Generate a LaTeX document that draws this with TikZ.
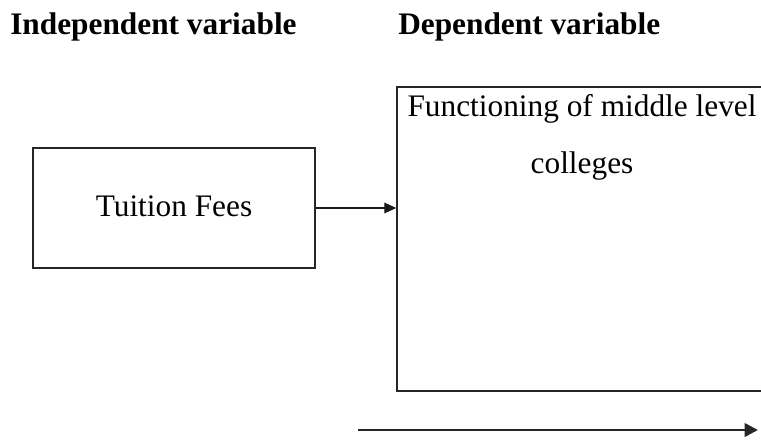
\documentclass[tikz,border=0pt]{standalone}
\usepackage{fontspec}
\setmainfont{Liberation Serif}
\usetikzlibrary{arrows.meta}
\begin{document}
\begin{tikzpicture}[x=0.75pt,y=-0.75pt,
  box/.style={draw=black!85,line width=1.1pt,rectangle,inner sep=0pt},
  txt/.style={font=\fontsize{23.5}{28}\selectfont,inner sep=0pt,anchor=base},
  head/.style={font=\bfseries\fontsize{23.5}{28}\selectfont,inner sep=0pt,anchor=base west},
  conn/.style={-{Triangle[length=9pt,width=8pt]},line width=0.8pt,black!90},
  bigarrow/.style={-{Triangle[length=10pt,width=10pt]},line width=2pt,black!85}]
\useasboundingbox (0,0) rectangle (761,442);
\clip (0,0) rectangle (761,442);
\node[head] (iv) at (10,35) {Independent variable};
\node[head] (dvh) at (398,35) {Dependent variable};
\node[box,minimum width=282*0.75pt,minimum height=120*0.75pt] (tf) at (174,208) {};
\node[txt] (tft) at (174,217) {Tuition Fees};
\node[box,minimum width=370*0.75pt,minimum height=304*0.75pt] (dv) at (582,239) {};
\node[txt] (dv1) at (582,117) {Functioning of middle level};
\node[txt] (dv2) at (582,174) {colleges};
\draw[conn] (tf.east) -- (dv.west |- 0,208);
\coordinate (a1) at (358,430);
\coordinate (a2) at (758,430);
\draw[bigarrow] (a1) -- (a2);
\end{tikzpicture}
\end{document}
